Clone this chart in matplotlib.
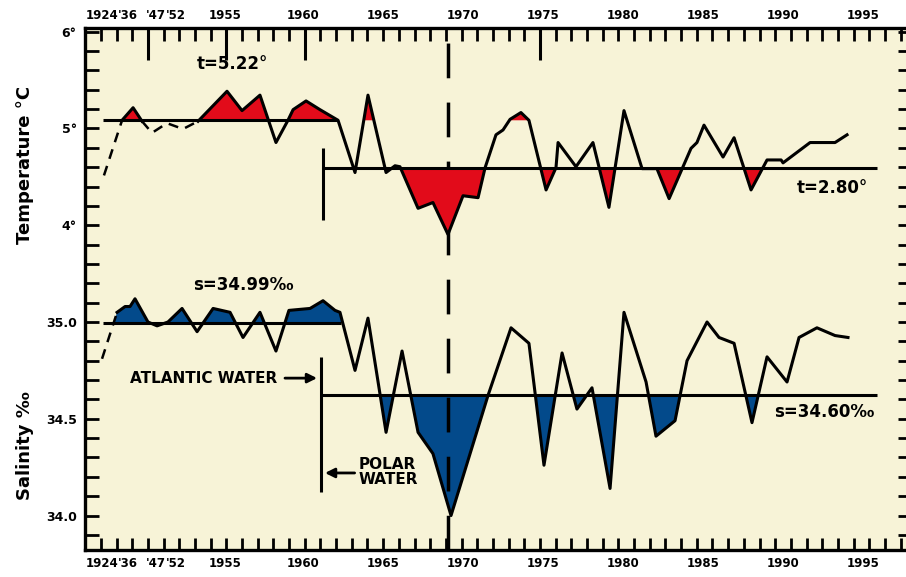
import numpy as np
import matplotlib
matplotlib.use("Agg")
import matplotlib.pyplot as plt
from matplotlib import transforms, font_manager

# x positions are on the chart's year scale (the years before 1955 are squeezed in)
temp_year = [1948.56, 1949.69, 1950.38, 1950.94, 1951.56, 1952.5, 1953.5, 1954.44,
             1956.25, 1957.19, 1958.31, 1959.31, 1960.06, 1960.38, 1961.19, 1962.06,
             1963.19, 1964.25, 1965.06, 1966.19, 1966.75, 1967.06, 1968.19, 1969.12,
             1970.06, 1971.0, 1971.94, 1972.38, 1973.06, 1973.5, 1973.94, 1974.62,
             1975.12, 1976.19, 1976.81, 1976.94, 1978.06, 1979.12, 1980.12, 1981.06,
             1982.19, 1983.12, 1983.88, 1985.25, 1985.62, 1986.06, 1987.25, 1987.94,
             1989.0, 1990.0, 1990.88, 1991.0, 1992.69, 1994.25, 1995.0]
temp = [4.51, 5.08, 5.21, 5.07, 4.95, 5.05, 4.99, 5.07,
        5.38, 5.18, 5.34, 4.85, 5.08, 5.19, 5.28, 5.19,
        5.08, 4.54, 5.34, 4.54, 4.61, 4.60, 4.17, 4.23,
        3.90, 4.30, 4.28, 4.59, 4.93, 4.98, 5.09, 5.16,
        5.08, 4.36, 4.59, 4.85, 4.60, 4.85, 4.18, 5.18,
        4.58, 4.58, 4.27, 4.79, 4.85, 5.03, 4.70, 4.90,
        4.36, 4.67, 4.67, 4.64, 4.85, 4.85, 4.93]

sal_year = [1948.44, 1949.38, 1949.88, 1950.19, 1950.5, 1951.31, 1951.88, 1952.56,
            1953.44, 1954.38, 1955.38, 1956.44, 1957.25, 1958.31, 1959.31, 1960.12,
            1961.44, 1962.25, 1963.0, 1963.31, 1964.25, 1965.06, 1966.19, 1967.19,
            1968.19, 1969.12, 1970.25, 1972.56, 1974.0, 1975.12, 1976.06, 1977.19,
            1978.12, 1979.06, 1980.19, 1981.06, 1982.44, 1983.06, 1984.25, 1985.0,
            1986.25, 1987.0, 1987.94, 1989.06, 1990.0, 1991.25, 1992.0, 1993.12,
            1994.25, 1995.06]
sal = [34.81, 35.05, 35.08, 35.08, 35.12, 35.0, 34.98, 35.0,
       35.07, 34.95, 35.07, 35.05, 34.92, 35.05, 34.85, 35.06,
       35.07, 35.11, 35.06, 35.05, 34.75, 35.02, 34.43, 34.85,
       34.43, 34.32, 34.0, 34.62, 34.97, 34.89, 34.26, 34.84,
       34.55, 34.66, 34.14, 35.05, 34.69, 34.41, 34.49, 34.8,
       35.0, 34.92, 34.89, 34.48, 34.82, 34.69, 34.92, 34.97,
       34.93, 34.92]

# mean levels as drawn, and their printed labels
t_mean_atl, t_mean_pol = 5.08, 4.59
s_mean_atl, s_mean_pol = 34.995, 34.625
t_label_atl, t_label_pol = "t=5.22°", "t=2.80°"
s_label_atl, s_label_pol = "s=34.99‰", "s=34.60‰"

year_labels = ["1924", "'36", "'47", "'52", "1955", "1960", "1965", "1970",
               "1975", "1980", "1985", "1990", "1995"]
year_label_pos = [1947.4, 1949.4, 1951.2, 1952.4, 1955.1, 1960, 1965, 1970,
                  1975, 1980, 1985, 1990, 1995]

red = "#e20b1a"
blue = "#034a8b"
cream = "#f7f3d7"

plt.rcParams["font.family"] = ["DejaVu Sans"]
plt.rcParams["font.weight"] = "bold"

names = {f.name for f in font_manager.fontManager.ttflist}
narrow = "Liberation Sans Narrow" if "Liberation Sans Narrow" in names else "DejaVu Sans"
narrow_size = 10 if narrow != "DejaVu Sans" else 8.5

fig = plt.figure(figsize=(9.06, 5.77), dpi=100)
ax = fig.add_axes([85 / 906, 1 - 550 / 577, 827 / 906, 522 / 577])
ax.set_facecolor(cream)
axt = ax.twinx()

ax.set_xlim(1947.375, 1999.06)
ax.set_ylim(33.822, 36.519)
axt.set_ylim(0.638, 6.034)

tx = np.array(temp_year)
ty = np.array(temp)
sx = np.array(sal_year)
sy = np.array(sal)

# temperature
axt.fill_between(tx, ty, t_mean_atl, where=(ty > t_mean_atl) & (tx < 1975.5),
                 interpolate=True, color=red, lw=0, zorder=1)
axt.fill_between(tx, ty, t_mean_pol, where=(ty < t_mean_pol) & (tx > 1962.2),
                 interpolate=True, color=red, lw=0, zorder=1)
axt.plot(tx[0:2], ty[0:2], color="black", lw=1.8, ls=(0, (4, 3)), zorder=3)
axt.plot(tx[1:4], ty[1:4], color="black", lw=2.2, zorder=3)
axt.plot(tx[3:8], ty[3:8], color="black", lw=1.8, ls=(0, (4, 3)), zorder=3)
axt.plot(tx[7:], ty[7:], color="black", lw=2.2, zorder=3)
axt.hlines(t_mean_atl, 1948.5, 1963.2, color="black", lw=2.2, zorder=2)
axt.hlines(t_mean_pol, 1962.2, 1996.9, color="black", lw=2.2, zorder=2)
axt.vlines(1962.25, 4.05, 4.79, color="black", lw=2.2, zorder=2)
axt.text(1956.6, 5.66, t_label_atl, fontsize=12, ha="center", va="center")
axt.text(1994.1, 4.38, t_label_pol, fontsize=12, ha="center", va="center")

# salinity
ax.fill_between(sx, sy, s_mean_atl, where=(sy > s_mean_atl) & (sx < 1963.5),
                interpolate=True, color=blue, lw=0, zorder=1)
ax.fill_between(sx, sy, s_mean_pol, where=(sy < s_mean_pol) & (sx > 1962.1),
                interpolate=True, color=blue, lw=0, zorder=1)
ax.plot(sx[0:2], sy[0:2], color="black", lw=1.8, ls=(0, (4, 3)), zorder=3)
ax.plot(sx[1:], sy[1:], color="black", lw=2.2, zorder=3)
ax.hlines(s_mean_atl, 1948.5, 1963.4, color="black", lw=2.2, zorder=2)
ax.hlines(s_mean_pol, 1962.1, 1996.9, color="black", lw=2.2, zorder=2)
ax.vlines(1962.12, 34.12, 34.82, color="black", lw=2.2, zorder=2)
ax.text(1957.3, 35.19, s_label_atl, fontsize=12, ha="center", va="center")
ax.text(1993.6, 34.535, s_label_pol, fontsize=12, ha="center", va="center")

ax.annotate("", xy=(1962.05, 34.71), xytext=(1959.7, 34.71),
            arrowprops=dict(arrowstyle="-|>", color="black", lw=2, mutation_scale=14))
ax.text(1959.4, 34.71, "ATLANTIC WATER", fontsize=11, ha="right", va="center")
ax.annotate("", xy=(1962.2, 34.22), xytext=(1964.4, 34.22),
            arrowprops=dict(arrowstyle="-|>", color="black", lw=2, mutation_scale=14))
ax.text(1964.5, 34.225, "POLAR\nWATER", fontsize=11, ha="left", va="center",
        linespacing=1.0)

# 1970 marker
ax.axvline(1970.06, color="black", lw=2.5, ls=(0, (10, 7)), zorder=2)

# frame and ticks
for side in ["left", "top", "bottom", "right"]:
    ax.spines[side].set_linewidth(2.4)
for side in axt.spines:
    axt.spines[side].set_visible(False)
axt.set_yticks([])

ax.set_xticks(np.arange(1948.37, 1999, 0.98))
ax.tick_params(axis="x", which="both", direction="in", length=9, width=2,
               top=True, bottom=True, labelbottom=False, labeltop=False)
blend = transforms.blended_transform_factory(ax.transData, ax.transAxes)
ax.vlines([1951.31, 1956.19, 1961.1, 1975.8], 1 - 32 / 522, 1, transform=blend,
          color="black", lw=2.2)

for lab, pos in zip(year_labels, year_label_pos):
    ax.text(pos, 1.012, lab, transform=blend, fontsize=narrow_size, family=narrow,
            ha="left", va="bottom")
    ax.text(pos, -0.014, lab, transform=blend, fontsize=narrow_size, family=narrow,
            ha="left", va="top")

yt = np.round(np.arange(33.9, 36.55, 0.1), 2)
ylab = {36.5: "6°", 36.0: "5°", 35.5: "4°", 35.0: "35.0", 34.5: "34.5", 34.0: "34.0"}
ax.set_yticks(yt)
ax.set_yticklabels([ylab.get(v, "") for v in yt])
ax.tick_params(axis="y", direction="in", length=10, width=2, left=True, right=True,
               labelsize=9, pad=6)

fig.text(25 / 906, 1 - 165 / 577, "Temperature °C", rotation=90, fontsize=13,
         ha="center", va="center")
fig.text(25 / 906, 1 - 446 / 577, "Salinity ‰", rotation=90, fontsize=13,
         ha="center", va="center")

fig.savefig("out.png", dpi=100, facecolor="white")
